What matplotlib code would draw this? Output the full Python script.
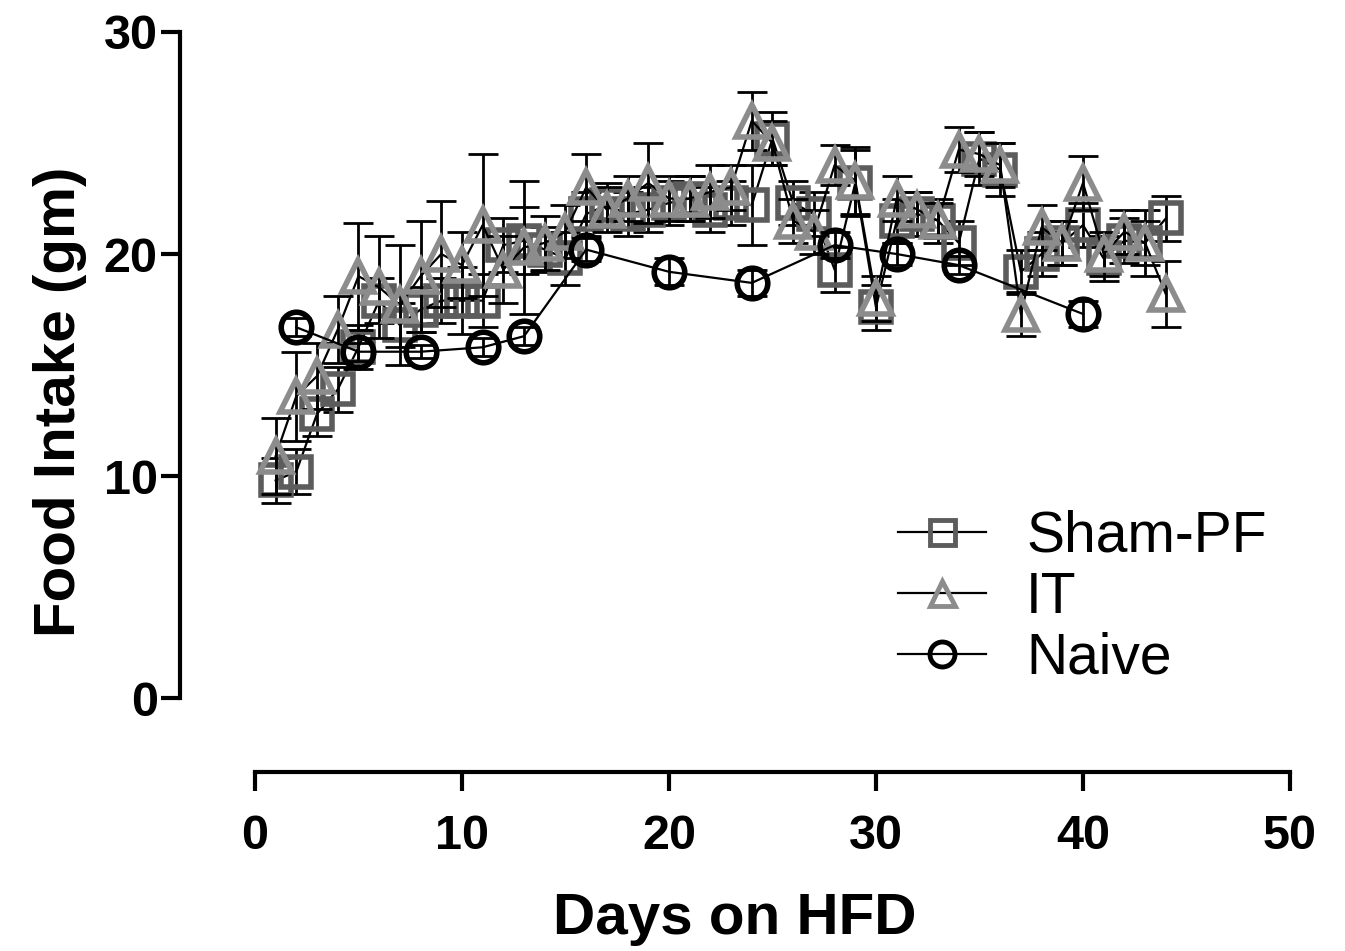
import numpy as np
import matplotlib
matplotlib.use("Agg")
import matplotlib.pyplot as plt

# values
sham_days = list(range(1, 45))
sham_mean = [9.8, 10.2, 12.8, 13.9, 15.8, 17.9, 16.8, 17.5, 17.9, 17.9,
             17.9, 20.4, 20.6, 20.2, 19.8, 21.8, 22.2, 21.8, 22.0, 22.3,
             22.5, 22.0, 22.3, 22.2, 25.2, 22.3, 21.8, 19.3, 23.2, 17.6,
             21.5, 21.8, 21.5, 20.5, 24.3, 23.8, 19.2, 20.0, 20.5, 21.3,
             19.8, 20.6, 20.5, 21.6]
sham_err = [1.0, 1.0, 1.0, 1.0, 1.0, 1.0, 1.0, 1.0, 1.0, 1.5,
            1.2, 1.2, 1.5, 1.0, 1.2, 1.0, 1.0, 1.0, 1.0, 1.0,
            1.0, 1.0, 1.0, 1.8, 1.2, 1.0, 1.0, 1.0, 1.5, 1.0,
            1.0, 1.0, 1.0, 1.0, 1.2, 1.2, 1.0, 1.0, 1.0, 1.0,
            1.0, 1.0, 1.5, 1.0]

it_days = list(range(1, 45))
it_mean = [10.9, 13.6, 14.5, 16.6, 19.0, 18.5, 17.7, 19.0, 20.0, 19.5,
           21.3, 19.3, 20.3, 20.5, 21.0, 23.0, 22.0, 22.5, 23.2, 22.5,
           22.5, 22.8, 23.0, 26.0, 25.0, 21.5, 21.0, 24.0, 23.3, 18.0,
           22.5, 22.0, 21.5, 24.7, 24.5, 24.0, 17.3, 21.2, 20.5, 23.2,
           20.0, 21.0, 20.5, 18.2]
it_err = [1.7, 2.0, 1.5, 1.5, 2.4, 2.3, 2.7, 2.5, 2.4, 1.5,
          3.2, 1.5, 3.0, 1.2, 1.2, 1.5, 1.0, 1.0, 1.8, 1.0,
          1.0, 1.2, 1.0, 1.3, 1.0, 1.0, 1.0, 0.9, 1.5, 1.0,
          1.0, 0.8, 0.8, 1.0, 1.0, 1.0, 1.0, 1.0, 1.0, 1.2,
          1.0, 1.0, 1.0, 1.5]

naive_days = [2, 5, 8, 11, 13, 16, 20, 24, 28, 31, 34, 40]
naive_mean = [16.7, 15.6, 15.6, 15.8, 16.3, 20.2, 19.2, 18.7, 20.4, 20.0, 19.5, 17.3]
naive_err = [0.4, 0.4, 0.3, 0.4, 0.4, 0.5, 0.6, 0.6, 0.6, 0.5, 0.4, 0.6]

labels = ["Sham-PF", "IT", "Naive"]

plt.rcParams['font.family'] = ['Liberation Sans', 'DejaVu Sans']

fig = plt.figure(figsize=(13.45, 9.51), dpi=100)
ax = fig.add_axes([180/1345, 1-772/951, (1290-180)/1345, (772-32)/951])

series = [
    (sham_days, sham_mean, sham_err, 's', '#5c5c5c', 2, 21),
    (it_days, it_mean, it_err, '^', '#8c8c8c', 3, 23),
    (naive_days, naive_mean, naive_err, 'o', 'black', 4, 22),
]
handles = []
for (d, m, e, mk, col, z, ms), lab in zip(series, labels):
    ax.errorbar(d, m, yerr=e, fmt='none', ecolor='black', elinewidth=2,
                capsize=11, capthick=2, zorder=z)
    h, = ax.plot(d, m, color='black', lw=1.6, marker=mk, markersize=ms,
                 markerfacecolor='none', markeredgecolor=col, markeredgewidth=4,
                 zorder=z, label=lab)
    handles.append(h)

ax.set_xlim(-3.62, 50)
ax.set_ylim(-3.33, 30)
for s in ['top', 'right']:
    ax.spines[s].set_visible(False)
ax.spines['left'].set_bounds(0, 30)
ax.spines['bottom'].set_bounds(0, 50)
ax.spines['left'].set_linewidth(3)
ax.spines['bottom'].set_linewidth(3)
ax.set_xticks([0, 10, 20, 30, 40, 50])
ax.set_yticks([0, 10, 20, 30])
ax.tick_params(axis='both', direction='out', width=3, labelsize=35, length=14, pad=2)
for t in ax.get_xticklabels() + ax.get_yticklabels():
    t.set_fontweight('bold')
ax.tick_params(axis='x', pad=16)

ax.set_xlabel('Days on HFD', fontsize=42, fontweight='bold', labelpad=24)
ax.set_ylabel('Food Intake (gm)', fontsize=42, fontweight='bold', labelpad=12)

leg_handles = []
for (d, m, e, mk, col, z, ms) in series:
    lh = plt.Line2D([], [], color='black', lw=1.6, marker=mk, markersize=18,
                    markerfacecolor='none', markeredgecolor=col, markeredgewidth=3.5)
    leg_handles.append(lh)
fig.legend(leg_handles, labels, loc='upper left', bbox_to_anchor=(898/1345, 1-510/951),
           frameon=False, fontsize=41, handlelength=1.55, handletextpad=0.7,
           labelspacing=0.12, borderpad=0, borderaxespad=0)

fig.savefig('out.png', dpi=100)
